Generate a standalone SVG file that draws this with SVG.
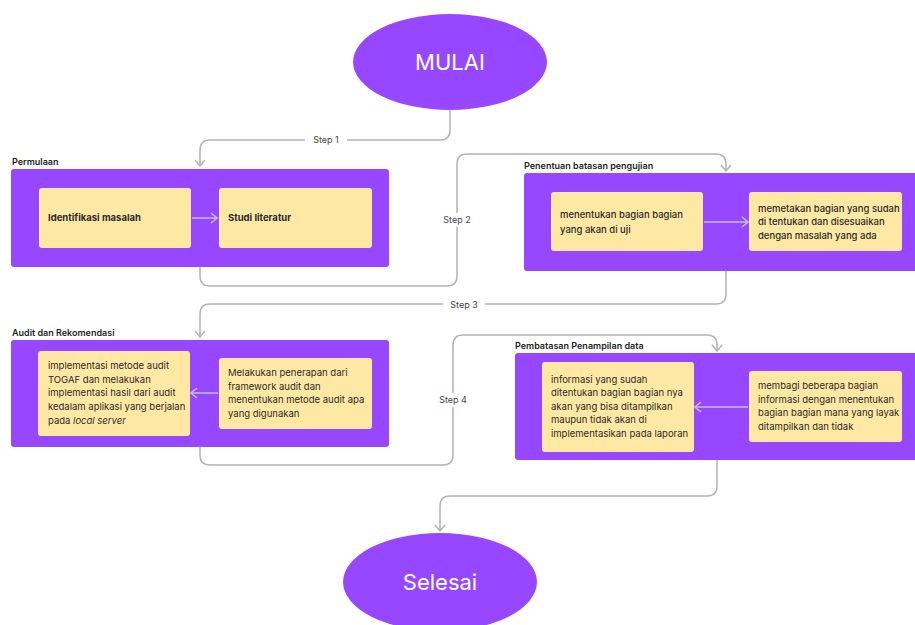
<svg xmlns="http://www.w3.org/2000/svg" width="915" height="625" viewBox="0 0 915 625">
<style>
.bg{fill:#ffffff}
.grp{fill:#9747FF}
.box{fill:#FFE8A3}
.term{fill:#9747FF}
.termtxt{font-family:Inter,"Liberation Sans",sans-serif;font-size:22px;fill:#ffffff;text-anchor:middle}
.title{font-family:Inter,"Liberation Sans",sans-serif;font-size:9px;font-weight:600;fill:#1E1E1E}
.t{font-family:Inter,"Liberation Sans",sans-serif;font-size:9.5px;fill:#2B2B2B}
.tb{font-family:Inter,"Liberation Sans",sans-serif;font-size:9.5px;font-weight:700;fill:#2B2B2B}
.tm{font-family:Inter,"Liberation Sans",sans-serif;font-size:9.5px;font-weight:500;fill:#2B2B2B}
.conn{fill:none;stroke:#B3B3B3;stroke-width:1.5}
.inner{fill:none;stroke:#C9BCE6;stroke-width:1.5}
.step{font-family:Inter,"Liberation Sans",sans-serif;font-size:9px;fill:#444444;text-anchor:middle}
.lblbg{fill:#ffffff}
</style>
<defs>
<marker id="ah" viewBox="0 0 12 12" refX="11" refY="6" markerWidth="12" markerHeight="12" orient="auto" markerUnits="userSpaceOnUse">
<path d="M5,1 L11,6 L5,11" fill="none" stroke="#B3B3B3" stroke-width="1.5"/>
</marker>
<marker id="ahi" viewBox="0 0 12 12" refX="11" refY="6" markerWidth="12" markerHeight="12" orient="auto" markerUnits="userSpaceOnUse">
<path d="M5,1 L11,6 L5,11" fill="none" stroke="#C9BCE6" stroke-width="1.5"/>
</marker>
</defs>
<rect class="bg" x="0" y="0" width="915" height="625"/>

<g id="connectors">
<path class="conn" d="M450,110 V130 Q450,140 440,140 H210 Q200,140 200,150 V166" marker-end="url(#ah)"/>
<path class="conn" d="M200,267 V276 Q200,286 210,286 H447 Q457,286 457,276 V164 Q457,154 467,154 H716 Q726,154 726,164 V171" marker-end="url(#ah)"/>
<path class="conn" d="M726,271 V294 Q726,304 716,304 H210 Q200,304 200,314 V337" marker-end="url(#ah)"/>
<path class="conn" d="M200,447 V455 Q200,465 210,465 H443 Q453,465 453,455 V345 Q453,335 463,335 H707 Q717,335 717,345 V351" marker-end="url(#ah)"/>
<path class="conn" d="M717,460 V486 Q717,496 707,496 H450 Q440,496 440,506 V531" marker-end="url(#ah)"/>
<rect class="lblbg" x="305" y="133" width="42" height="14"/>
<text class="step" x="326" y="143">Step 1</text>
<rect class="lblbg" x="436" y="213" width="42" height="14"/>
<text class="step" x="457" y="223">Step 2</text>
<rect class="lblbg" x="443" y="298" width="42" height="14"/>
<text class="step" x="464" y="308">Step 3</text>
<rect class="lblbg" x="432" y="393" width="42" height="14"/>
<text class="step" x="453" y="403">Step 4</text>
</g>

<g id="mulai">
<ellipse class="term" cx="450" cy="62" rx="97" ry="48"/>
<text class="termtxt" x="450" y="70">MULAI</text>
</g>

<g id="permulaan">
<text class="title" x="12" y="165">Permulaan</text>
<rect class="grp" x="11" y="169" width="378" height="98" rx="3"/>
<g id="identifikasi">
<rect class="box" x="39" y="188" width="152" height="60" rx="3"/>
<text class="tb" x="48" y="221">Identifikasi masalah</text>
</g>
<g id="studi">
<rect class="box" x="219" y="188" width="153" height="60" rx="3"/>
<text class="tb" x="228" y="221">Studi literatur</text>
</g>
<path class="inner" d="M192,218 H217" marker-end="url(#ahi)"/>
</g>

<g id="penentuan">
<text class="title" x="524" y="169">Penentuan batasan pengujian</text>
<rect class="grp" x="524" y="173" width="396" height="98" rx="3"/>
<g id="menentukan">
<rect class="box" x="551" y="192" width="152" height="59" rx="3"/>
<text class="tm" x="560" y="218">menentukan bagian bagian</text>
<text class="tm" x="560" y="232.5">yang akan di uji</text>
</g>
<g id="memetakan">
<rect class="box" x="749" y="192" width="153" height="59" rx="3"/>
<text class="tm" x="758" y="211.5">memetakan bagian yang sudah</text>
<text class="tm" x="758" y="225">di tentukan dan disesuaikan</text>
<text class="tm" x="758" y="238.5">dengan masalah yang ada</text>
</g>
<path class="inner" d="M704,222 H748" marker-end="url(#ahi)"/>
</g>

<g id="audit">
<text class="title" x="12" y="336">Audit dan Rekomendasi</text>
<rect class="grp" x="11" y="340" width="378" height="107" rx="3"/>
<g id="implementasi">
<rect class="box" x="38" y="351" width="152" height="85" rx="3"/>
<text class="t" x="48" y="369">implementasi metode audit</text>
<text class="t" x="48" y="382.7">TOGAF dan melakukan</text>
<text class="t" x="48" y="396.4">implementasi hasil dari audit</text>
<text class="t" x="48" y="410.1">kedalam aplikasi yang berjalan</text>
<text class="t" x="48" y="423.8">pada <tspan font-style="italic">local server</tspan></text>
</g>
<g id="melakukan">
<rect class="box" x="219" y="358" width="153" height="71" rx="3"/>
<text class="t" x="228" y="376">Melakukan penerapan dari</text>
<text class="t" x="228" y="389.5">framework audit dan</text>
<text class="t" x="228" y="403">menentukan metode audit apa</text>
<text class="t" x="228" y="416.5">yang digunakan</text>
</g>
<path class="inner" d="M218,393 H191" marker-end="url(#ahi)"/>
</g>

<g id="pembatasan">
<text class="title" x="515" y="349">Pembatasan Penampilan data</text>
<rect class="grp" x="515" y="353" width="405" height="107" rx="3"/>
<g id="informasi">
<rect class="box" x="542" y="362" width="152" height="90" rx="3"/>
<text class="t" x="551" y="383">informasi yang sudah</text>
<text class="t" x="551" y="396.4">ditentukan bagian bagian nya</text>
<text class="t" x="551" y="409.8">akan yang bisa ditampilkan</text>
<text class="t" x="551" y="423.2">maupun tidak akan di</text>
<text class="t" x="551" y="436.6">implementasikan pada laporan</text>
</g>
<g id="membagi">
<rect class="box" x="749" y="371" width="153" height="71" rx="3"/>
<text class="t" x="758" y="389.3">membagi beberapa bagian</text>
<text class="t" x="758" y="402.8">informasi dengan menentukan</text>
<text class="t" x="758" y="416.3">bagian bagian mana yang layak</text>
<text class="t" x="758" y="429.8">ditampilkan dan tidak</text>
</g>
<path class="inner" d="M748,407 H695" marker-end="url(#ahi)"/>
</g>

<g id="selesai">
<ellipse class="term" cx="440" cy="582" rx="97" ry="49"/>
<text class="termtxt" x="440" y="590">Selesai</text>
</g>
</svg>
